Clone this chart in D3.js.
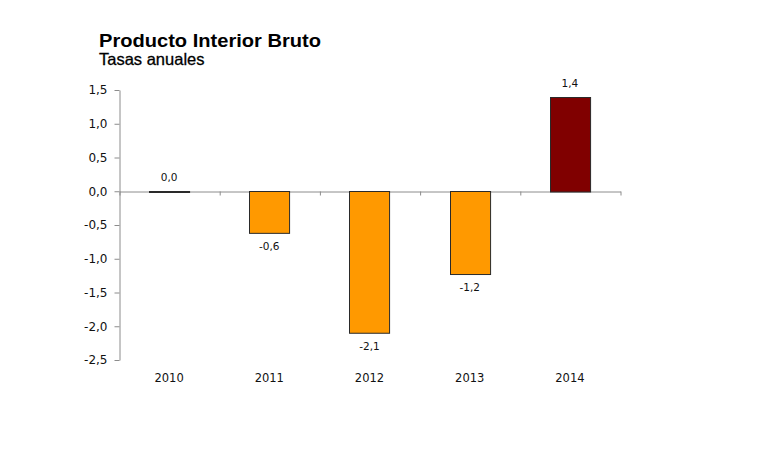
<!DOCTYPE html>
<html>
<head>
<meta charset="utf-8">
<script src="https://cdn.jsdelivr.net/npm/d3@7"></script>
<style>
  html, body { margin: 0; padding: 0; background: #fff; }
  svg { display: block; }
</style>
</head>
<body>
<svg id="chart" width="770" height="461"></svg>
<script>
const categories = ["2010", "2011", "2012", "2013", "2014"];
const values = [0.0, -0.62, -2.1, -1.23, 1.4];
const labels = ["0,0", "-0,6", "-2,1", "-1,2", "1,4"];
const barColors = ["#FF9900", "#FF9900", "#FF9900", "#FF9900", "#800000"];
const yTicks = [1.5, 1.0, 0.5, 0.0, -0.5, -1.0, -1.5, -2.0, -2.5];
const title = "Producto Interior Bruto";
const subtitle = "Tasas anuales";

const svg = d3.select("#chart");
const axisColor = "#8c8c8c";
const fontAxis = "'DejaVu Sans', Verdana, sans-serif";

const x = d3.scaleBand().domain(categories).range([119, 620]).paddingInner(0.6).paddingOuter(0.3);
const xb = d3.scaleLinear().domain([0, categories.length]).range([119, 620]);
const y = d3.scaleLinear().domain([-2.5, 1.5]).range([360, 90]);

// Titles
svg.append("text").attr("x", 99).attr("y", 47)
  .attr("font-family", "'Liberation Sans', Arial, sans-serif")
  .attr("font-weight", "bold").attr("font-size", 19)
  .attr("textLength", 222).attr("lengthAdjust", "spacingAndGlyphs")
  .attr("fill", "#000").text(title);
svg.append("text").attr("x", 99).attr("y", 65)
  .attr("font-family", "'Liberation Sans', Arial, sans-serif")
  .attr("font-size", 16.5).attr("fill", "#000")
  .attr("stroke", "#000").attr("stroke-width", 0.3).text(subtitle);

// Y axis
const yAxis = svg.append("g").attr("transform", "translate(119.5,0)")
  .call(d3.axisLeft(y).tickValues(yTicks).tickSize(5).tickSizeOuter(0).tickPadding(7)
    .tickFormat(d => d3.format(".1f")(d).replace(".", ",").replace("−", "-")));
yAxis.selectAll("path, line").attr("stroke", axisColor);
yAxis.selectAll("text").attr("font-family", fontAxis).attr("font-size", 12).attr("fill", "#111");

// X zero axis with boundary ticks
const xAxis = svg.append("g").attr("transform", `translate(0.5,${Math.round(y(0)) + 0.5})`)
  .call(d3.axisBottom(xb).tickValues(d3.range(categories.length + 1)).tickSize(4).tickSizeOuter(0).tickFormat(""));
xAxis.select("path").attr("stroke", axisColor);
xAxis.selectAll("line").attr("stroke", axisColor);

// Bars
svg.append("g").selectAll("rect").data(categories).join("rect")
  .attr("x", d => Math.round(x(d)) + 0.5)
  .attr("y", (d, i) => Math.round(y(Math.max(0, values[i]))) + 0.5)
  .attr("width", x.bandwidth())
  .attr("height", (d, i) => Math.max(1, Math.abs(y(values[i]) - y(0))))
  .attr("fill", (d, i) => barColors[i])
  .attr("stroke", "#2a2a2a").attr("stroke-width", 1);

// Value labels
svg.append("g").selectAll("text").data(categories).join("text")
  .attr("x", d => x(d) + x.bandwidth() / 2)
  .attr("y", (d, i) => values[i] >= 0 ? y(values[i]) - 10 : y(values[i]) + 17)
  .attr("text-anchor", "middle")
  .attr("font-family", fontAxis).attr("font-size", 10.5).attr("fill", "#111")
  .text((d, i) => labels[i]);

// Category labels
const catAxis = svg.append("g").attr("transform", "translate(0,371)")
  .call(d3.axisBottom(x).tickSize(0).tickPadding(3));
catAxis.select("path").remove();
catAxis.selectAll("text").attr("font-family", fontAxis).attr("font-size", 11.5).attr("fill", "#111");
</script>
</body>
</html>
